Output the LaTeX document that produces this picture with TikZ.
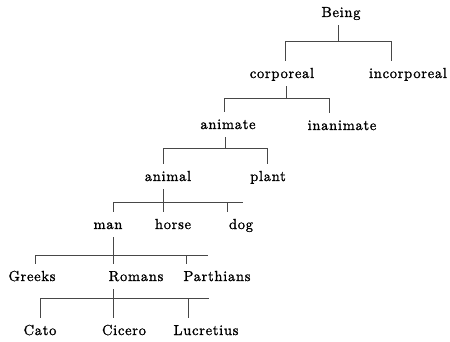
\documentclass[tikz,border=0pt]{standalone}
\usepackage{fontspec}
\setmainfont{lmroman10-regular}[Extension=.otf,LetterSpace=5,FakeBold=1.3]
\tikzset{
	word/.style={anchor=base, inner xsep=0pt, inner ysep=5pt, text height=12pt, text depth=3pt, font=\fontsize{14.5}{16}\selectfont},
	branch/.style={line width=1pt, color=black!72}
}
\begin{document}
\begin{tikzpicture}[x=1pt,y=-1pt]
			%%%%% START %%%%%
			\useasboundingbox (0,0) rectangle (450,342);
			
			\node[word] (being) at (341,17) {Being};
			\node[word] (corporeal) at (282,78) {corporeal};
			\node[word] (incorporeal) at (408,78) {incorporeal};
			\node[word] (animate) at (228,129) {animate};
			\node[word] (inanimate) at (342,130) {inanimate};
			\node[word] (animal) at (168,181) {animal};
			\node[word] (plant) at (268,181) {plant};
			\node[word] (man) at (108,229) {man};
			\node[word] (horse) at (173,229) {horse};
			\node[word] (dog) at (241,229) {dog};
			\node[word] (greeks) at (32,281) {Greeks};
			\node[word] (romans) at (136,281) {Romans};
			\node[word] (parthians) at (217,281) {Parthians};
			\node[word] (cato) at (40,335) {Cato};
			\node[word] (cicero) at (124,335) {Cicero};
			\node[word] (lucretius) at (206,335) {Lucretius};
			
			% bars: left end, right end, stem
			\coordinate (beingL) at (285,42);
			\coordinate (beingR) at (391,42);
			\coordinate (beingS) at (338,42);
			\coordinate (corporealL) at (224,99);
			\coordinate (corporealR) at (329,99);
			\coordinate (corporealS) at (286,99);
			\coordinate (animateL) at (163,149);
			\coordinate (animateR) at (267,149);
			\coordinate (animateS) at (225,149);
			\coordinate (animalL) at (113,202);
			\coordinate (animalR) at (243,202);
			\coordinate (animalD) at (227,202);
			\coordinate (manL) at (35,255);
			\coordinate (manR) at (208,255);
			\coordinate (manD) at (186,255);
			\coordinate (romansL) at (40,298);
			\coordinate (romansR) at (209,298);
			\coordinate (romansD) at (188,298);
			
			\draw[branch] (being.south -| beingS) -- (beingS);
			\draw[branch] (corporeal.north -| beingL) -- (beingL) -- (beingR) -- (incorporeal.north -| beingR);
			
			\draw[branch] (corporeal.south -| corporealS) -- (corporealS);
			\draw[branch] (animate.north -| corporealL) -- (corporealL) -- (corporealR) -- (inanimate.north -| corporealR);
			
			\draw[branch] (animate.south -| animateS) -- (animateS);
			\draw[branch] (animal.north -| animateL) -- (animateL) -- (animateR) -- (plant.north -| animateR);
			
			\draw[branch] (animal.south -| animateL) -- (horse.north -| animateL);
			\draw[branch] (man.north -| animalL) -- (animalL) -- (animalR);
			\draw[branch] (animalD) -- (dog.north -| animalD);
			
			\draw[branch] (man.south -| animalL) -- (romans.north -| animalL);
			\draw[branch] (greeks.north -| manL) -- (manL) -- (manR);
			\draw[branch] (manD) -- (parthians.north -| manD);
			
			\draw[branch] (romans.south -| animalL) -- (cicero.north -| animalL);
			\draw[branch] (cato.north -| romansL) -- (romansL) -- (romansR);
			\draw[branch] (romansD) -- (lucretius.north -| romansD);
			
			%%%%% END %%%%%
\end{tikzpicture}
\end{document}
